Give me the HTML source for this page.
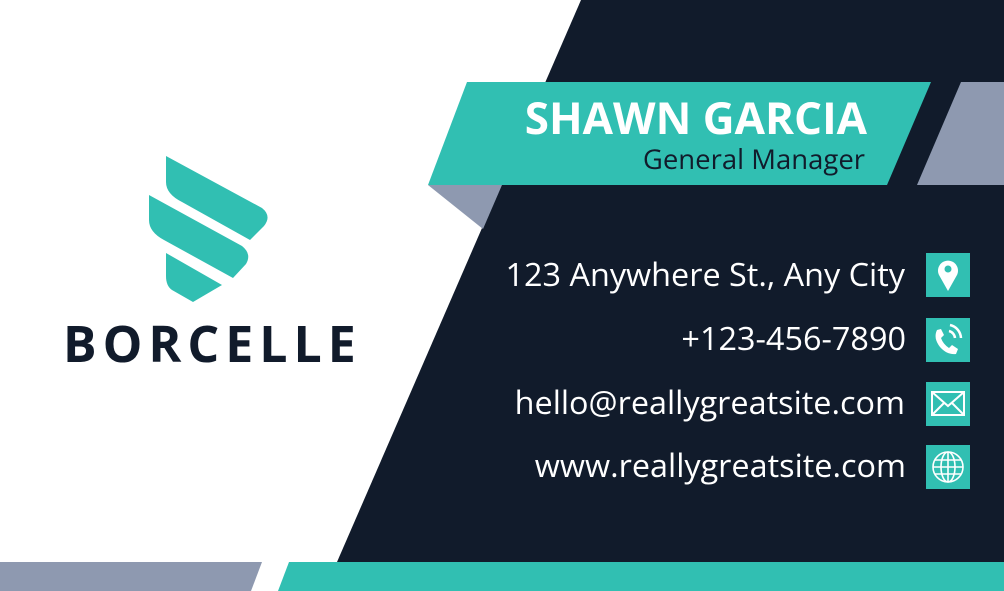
<!DOCTYPE html>
<html><head><meta charset="utf-8"><style>
html,body{margin:0;padding:0;}
body{width:1004px;height:591px;position:relative;overflow:hidden;background:#fff;font-family:"Open Sans","Liberation Sans",sans-serif;}
.t{position:absolute;white-space:nowrap;}
</style></head><body>
<svg width="1004" height="591" style="position:absolute;left:0;top:0">
<polygon points="581,0 1004,0 1004,562 337,562" fill="#111b2b"/>
<polygon points="428,185 502,185 483,229" fill="#8e99b0"/>
<polygon points="467,82 931,82 887,185 428,185" fill="#31bfb2"/>
<polygon points="961,82 1004,82 1004,185 917,185" fill="#8e99b0"/>
<polygon points="0,562 262,562 251,591 0,591" fill="#8e99b0"/>
<polygon points="289,562 1004,562 1004,591 278,591" fill="#31bfb2"/>
<g fill="#31bfb2">
<path d="M166,156 L262,208 Q272,216 264,226 L250,240 L182,202 Q166,194 166,182 Z"/>
<path d="M149,195 L242,246 Q252,254 246,264 L233,278 L164,240 Q149,232 149,220 Z"/>
<path d="M166,253 L222,285 L193,302 L172,290 Q166,286 166,276 Z"/>
</g>
<g fill="#31bfb2">
<rect x="926" y="253" width="44" height="44"/>
<rect x="926" y="318" width="44" height="44"/>
<rect x="926" y="382" width="44" height="44"/>
<rect x="926" y="445" width="44" height="44"/>
</g>
<g>
<path d="M948,291 L939,275 A10,10 0 1 1 957,275 Z" fill="#fff"/>
<circle cx="948" cy="269" r="3.5" fill="#31bfb2"/>
</g>
<g fill="none" stroke="#fff" stroke-width="2.5">
<path d="M937,330 Q933,338 940,347 Q947,355 956,354 L958,349 L952,345 L949,348 Q943,344 941,338 L944,335 L941,329 Z" fill="#fff" stroke="none"/>
<path d="M949,331 A8,8 0 0 1 955,338"/>
<path d="M950,325 A14,14 0 0 1 961,338"/>
</g>
<g fill="none" stroke="#fff" stroke-width="2">
<rect x="932" y="392" width="32" height="23"/>
<path d="M932,392 L948,406 L964,392 M932,415 L944,403 M964,415 L952,403"/>
</g>
<g fill="none" stroke="#fff" stroke-width="1.6">
<circle cx="948" cy="467" r="15"/>
<ellipse cx="948" cy="467" rx="7" ry="15"/>
<path d="M948,452 V482 M933,467 H963 M935,460 H961 M935,474 H961"/>
</g>
</svg>
<div class="t" style="left:63px;top:309px;font-size:50px;font-weight:bold;letter-spacing:6px;color:#111b2b;">BORCELLE</div>
<div class="t" style="right:137px;top:87px;font-size:44px;font-weight:bold;color:#fff;">SHAWN GARCIA</div>
<div class="t" style="right:139px;top:141px;font-size:27.5px;color:#111b2b;">General Manager</div>
<div class="t" style="right:99px;top:252px;font-size:32.4px;color:#fff;">123 Anywhere St., Any City</div>
<div class="t" style="right:98px;top:316px;font-size:32.4px;color:#fff;">+123-456-7890</div>
<div class="t" style="right:99px;top:380px;font-size:32.4px;color:#fff;">hello@reallygreatsite.com</div>
<div class="t" style="right:98px;top:443px;font-size:32.4px;color:#fff;">www.reallygreatsite.com</div>
</body></html>
